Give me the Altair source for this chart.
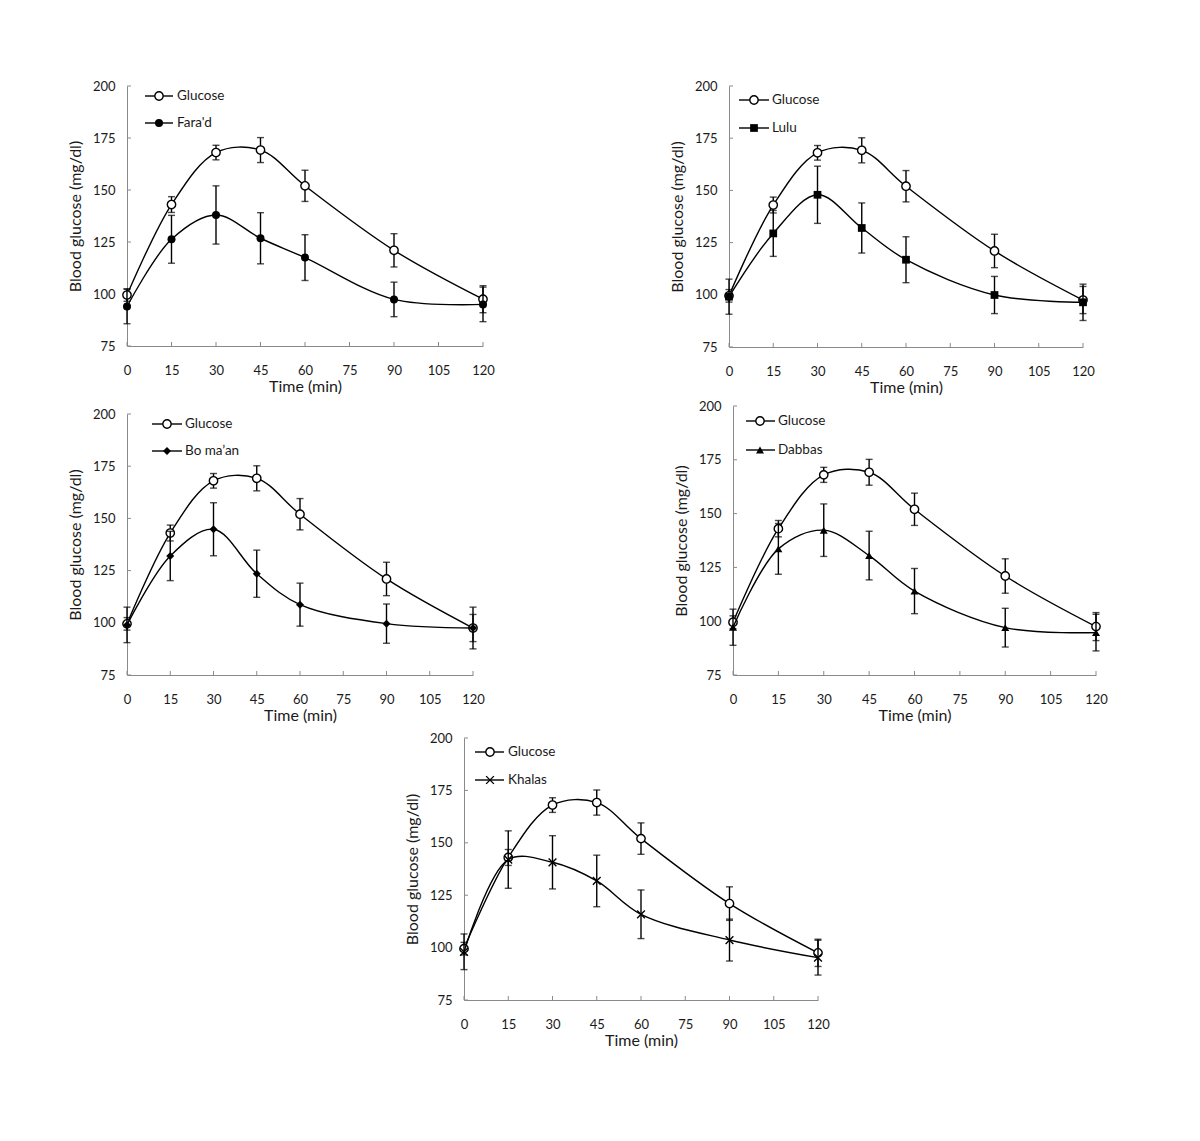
import altair as alt
import pandas as pd

times = [0, 15, 30, 45, 60, 90, 120]

glucose_mean = [99.5, 143.0, 168.0, 169.2, 152.0, 121.0, 97.5]
glucose_sd = [3.0, 3.8, 3.5, 6.0, 7.5, 8.0, 6.5]

farad_mean = [94.0, 126.3, 138.0, 126.8, 117.5, 97.4, 95.0]
farad_sd = [8.3, 11.5, 14.0, 12.3, 11.0, 8.3, 8.3]

lulu_mean = [99.1, 129.4, 147.9, 132.0, 116.8, 99.9, 96.4]
lulu_sd = [8.4, 11.0, 13.7, 12.0, 11.0, 8.9, 8.7]

boman_mean = [99.0, 132.0, 144.8, 123.5, 108.7, 99.6, 97.5]
boman_sd = [8.5, 11.8, 12.7, 11.3, 10.3, 9.4, 10.0]

dabbas_mean = [97.2, 133.6, 142.3, 130.5, 114.0, 97.0, 94.7]
dabbas_sd = [8.4, 11.8, 12.2, 11.3, 10.5, 9.0, 8.5]

khalas_mean = [98.0, 142.0, 140.7, 131.8, 115.9, 103.6, 95.2]
khalas_sd = [8.5, 13.7, 12.7, 12.3, 11.6, 10.0, 8.3]

x_ticks = [0, 15, 30, 45, 60, 75, 90, 105, 120]
y_ticks = [75, 100, 125, 150, 175, 200]

FONT = "Lato"
AXIS_GRAY = "#8a8a8a"
TEXT = "#1a1a1a"
X_SHAPE = "M-1,-1L1,1M-1,1L1,-1"


def xenc(field="t"):
    return alt.X(
        f"{field}:Q",
        scale=alt.Scale(domain=[0, 120], nice=False, zero=False),
        axis=alt.Axis(values=x_ticks, title="Time (min)", ticks=False, tickSize=0,
                      labelPadding=18, titlePadding=1, grid=False,
                      domainColor=AXIS_GRAY, labelFontSize=13, titleFontSize=16,
                      labelColor=TEXT, titleColor=TEXT, titleFontWeight="normal",
                      labelFont=FONT, titleFont=FONT, labelFlush=False),
    )


def yenc(field="g"):
    return alt.Y(
        f"{field}:Q",
        scale=alt.Scale(domain=[75, 200], nice=False, zero=False),
        axis=alt.Axis(values=y_ticks, title="Blood glucose (mg/dl)", ticks=False, tickSize=0,
                      labelPadding=12, titlePadding=9, grid=False,
                      domainColor=AXIS_GRAY, labelFontSize=13, titleFontSize=16,
                      labelColor=TEXT, titleColor=TEXT, titleFontWeight="normal",
                      labelFont=FONT, titleFont=FONT, labelFlush=False),
    )


def series_layers(mean, sd, shape, filled, size):
    df = pd.DataFrame({"t": times, "g": mean, "lo": [m - s for m, s in zip(mean, sd)],
                       "hi": [m + s for m, s in zip(mean, sd)]})
    base = alt.Chart(df)
    line = base.mark_line(color="black", strokeWidth=1.4, interpolate="catmull-rom").encode(
        x=xenc(), y=yenc())
    err = base.mark_rule(color="black", strokeWidth=1.4).encode(
        x=xenc(), y=yenc("lo"), y2="hi:Q")
    cap_lo = base.mark_tick(color="black", thickness=1.4, size=7, orient="horizontal").encode(
        x=xenc(), y=yenc("lo"))
    cap_hi = base.mark_tick(color="black", thickness=1.4, size=7, orient="horizontal").encode(
        x=xenc(), y=yenc("hi"))
    if filled:
        pts = base.mark_point(shape=shape, filled=True, color="black", size=size, opacity=1).encode(
            x=xenc(), y=yenc())
    else:
        pts = base.mark_point(shape=shape, filled=False, color="black", fill="white",
                              fillOpacity=1, strokeWidth=1.4, size=size, opacity=1).encode(
            x=xenc(), y=yenc())
    return [line, err, cap_lo, cap_hi, pts]


def legend_entry(label, shape, filled, size, lx0, lx1, mx, tx, ly):
    d = pd.DataFrame({"k": [0]})
    b = alt.Chart(d)
    ln = b.mark_rule(color="black", strokeWidth=1.4).encode(
        x=alt.value(lx0), x2=alt.value(lx1), y=alt.value(ly))
    if filled:
        pt = b.mark_point(shape=shape, filled=True, color="black", size=size, opacity=1).encode(
            x=alt.value(mx), y=alt.value(ly))
    else:
        pt = b.mark_point(shape=shape, filled=False, color="black", fill="white",
                          fillOpacity=1, strokeWidth=1.4, size=size, opacity=1).encode(
            x=alt.value(mx), y=alt.value(ly))
    tx_ = b.mark_text(text=label, align="left", baseline="middle", font=FONT,
                      fontSize=13.5, color=TEXT).encode(x=alt.value(tx), y=alt.value(ly))
    return [ln, pt, tx_]


def panel(name, mean, sd, shape, filled, size, W, H, leg):
    lx0, lx1, mx, tx, y1, y2 = leg
    ytick_df = pd.DataFrame({"g": y_ticks})
    xtick_df = pd.DataFrame({"t": x_ticks})
    ytk = alt.Chart(ytick_df).mark_rule(color=AXIS_GRAY, strokeWidth=1).encode(
        y=yenc(), x=alt.value(0), x2=alt.value(4))
    xtk = alt.Chart(xtick_df).mark_rule(color=AXIS_GRAY, strokeWidth=1).encode(
        x=xenc(), y=alt.value(H), y2=alt.value(H - 4))
    layers = [ytk, xtk]
    layers += series_layers(glucose_mean, glucose_sd, "circle", False, 70)
    layers += series_layers(mean, sd, shape, filled, size)
    layers += legend_entry("Glucose", "circle", False, 70, lx0, lx1, mx, tx, y1)
    layers += legend_entry(name, shape, filled, size, lx0, lx1, mx, tx, y2)
    return alt.layer(*layers).properties(width=W, height=H)


def spacer(w, h):
    return alt.Chart(pd.DataFrame({"k": [0]})).mark_rule(opacity=0, strokeWidth=0).encode(
        x=alt.value(0), y=alt.value(0)).properties(width=w, height=h)


p1 = panel("Fara'd", farad_mean, farad_sd, "circle", True, 64, 356, 260,
           (18, 46, 32, 50, 10, 37))
p2 = panel("Lulu", lulu_mean, lulu_sd, "square", True, 60, 354, 261,
           (10, 40, 25, 43, 14, 42))
p3 = panel("Bo ma\u2019an", boman_mean, boman_sd, "diamond", True, 64, 346, 261,
           (25, 55, 40, 58, 10, 37))
p4 = panel("Dabbas", dabbas_mean, dabbas_sd, "triangle-up", True, 64, 363, 269,
           (13, 42, 27, 45, 15, 44))
p5 = panel("Khalas", khalas_mean, khalas_sd, X_SHAPE, False, 60, 354, 262,
           (11, 40, 26, 44, 14, 42))

row1 = alt.hconcat(p1, p2, spacing=174)
row2 = alt.hconcat(alt.vconcat(spacer(10, 2), p3, spacing=0), p4, spacing=188)
row3 = alt.hconcat(spacer(257, 2), p5, spacing=20)

chart = alt.vconcat(row1, alt.vconcat(row2, row3, spacing=9), spacing=5).properties(
    padding={"left": 59, "top": 72, "right": 5, "bottom": 5},
    background="white",
).configure_view(stroke="transparent", strokeWidth=0)

chart.save("out.html", embed_options={"renderer": "svg", "actions": False})
